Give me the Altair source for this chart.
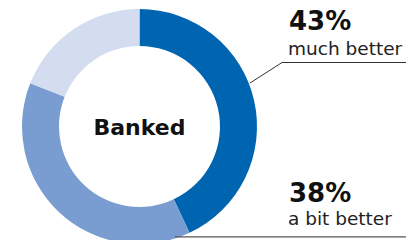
import altair as alt
import pandas as pd

categories = ["much better", "a bit better", "other"]
values = [43, 38, 19]
colors = ["#0065B1", "#7A9DD1", "#D3DDEF"]
center_label = "Banked"

arc_df = pd.DataFrame({"cat": categories, "value": values, "order": [0, 1, 2]})
lab_df = pd.DataFrame({"cat": categories[:2], "value": values[:2]})
lab_df["pct"] = lab_df["value"].astype(str) + "%"

CX, CY = 131.5, 118.5
FONT = "DejaVu Sans"

donut = alt.Chart(arc_df).mark_arc(outerRadius=117.5, innerRadius=80.5).encode(
    theta=alt.Theta("value:Q", stack=True),
    order=alt.Order("order:Q"),
    color=alt.Color("cat:N", scale=alt.Scale(domain=categories, range=colors), legend=None),
    x=alt.value(CX), y=alt.value(CY),
)

center = alt.Chart(pd.DataFrame({"t": [center_label]})).mark_text(
    font=FONT, fontWeight="bold", fontSize=22, color="#111", align="center", baseline="middle"
).encode(text="t:N", x=alt.value(CX), y=alt.value(CY + 1))

pct_y = [22, 194]
sub_y = [47, 217]
layers = [donut, center]
for i in range(2):
    row = lab_df.iloc[[i]]
    layers.append(alt.Chart(row).mark_text(
        font=FONT, fontWeight="bold", fontSize=26, color="#111", align="left", baseline="alphabetic"
    ).encode(text="pct:N", x=alt.value(281), y=alt.value(pct_y[i])))
    layers.append(alt.Chart(row).mark_text(
        font=FONT, fontSize=18.5, color="#222", align="left", baseline="alphabetic"
    ).encode(text="cat:N", x=alt.value(280), y=alt.value(sub_y[i])))

line_style = dict(color="#333", strokeWidth=1)
layers.append(alt.Chart(lab_df.iloc[[0]]).mark_rule(**line_style).encode(
    x=alt.value(242), y=alt.value(75), x2=alt.value(274), y2=alt.value(54.5)))
layers.append(alt.Chart(lab_df.iloc[[0]]).mark_rule(**line_style).encode(
    x=alt.value(274), y=alt.value(54.5), x2=alt.value(398), y2=alt.value(54.5)))
layers.append(alt.Chart(lab_df.iloc[[1]]).mark_rule(color="#555", strokeWidth=1.3).encode(
    x=alt.value(167), y=alt.value(228.8), x2=alt.value(398), y2=alt.value(228.8)))

chart = alt.layer(*layers).properties(
    width=400, height=232, padding=0, background="white",
    autosize=alt.AutoSizeParams(type="none")
).configure_view(strokeWidth=0, stroke="transparent")

chart.save("out.html", embed_options={"renderer": "svg", "actions": False})
